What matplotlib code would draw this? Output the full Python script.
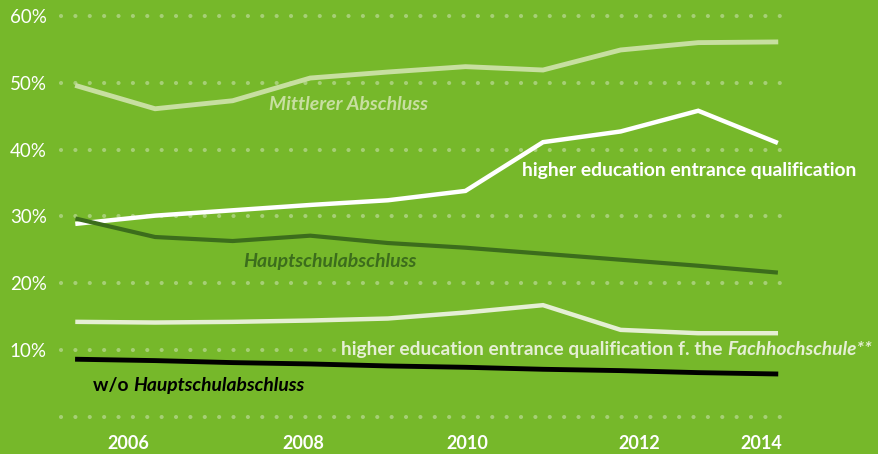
import matplotlib
matplotlib.use("Agg")
import matplotlib.pyplot as plt

years = [2005, 2006, 2007, 2008, 2009, 2010, 2011, 2012, 2013, 2014]

# shares of school leavers in percent
mittlerer = [49.5, 46.1, 47.3, 50.7, 51.6, 52.4, 51.9, 54.9, 56.0, 56.1]
hochschulreife = [28.9, 30.1, 30.9, 31.7, 32.4, 33.8, 41.1, 42.7, 45.8, 41.1]
hauptschul = [29.6, 26.9, 26.3, 27.1, 26.0, 25.3, 24.4, 23.5, 22.6, 21.6]
fachhochschul = [14.2, 14.1, 14.2, 14.4, 14.7, 15.6, 16.7, 13.0, 12.5, 12.5]
ohne = [8.6, 8.4, 8.1, 7.9, 7.6, 7.4, 7.1, 6.9, 6.6, 6.4]

y_ticks = [0, 10, 20, 30, 40, 50, 60]
y_labels = ["", "10%", "20%", "30%", "40%", "50%", "60%"]
x_ticks = [2005.66, 2007.91, 2010.02, 2012.24, 2013.81]
x_labels = ["2006", "2008", "2010", "2012", "2014"]

BG = "#76b82a"
DOTS = "#a6cf76"
C_MITTL = "#c7dfa0"
C_FH = "#e5efd4"
C_HAUPT = "#3c6d1c"

plt.rcParams["font.family"] = ["Lato", "DejaVu Sans"]

fig = plt.figure(figsize=(8.79, 4.54), dpi=100, facecolor=BG)
ax = fig.add_axes([55 / 879, 29 / 454, 824 / 879, 425 / 454])
ax.set_facecolor(BG)
ax.set_xlim(2004.71, 2015.33)
ax.set_ylim(-1.24, 62.38)
for s in ax.spines.values():
    s.set_visible(False)

# dotted grid
ax.hlines(y_ticks, 2004.787, 2014.21, colors=DOTS, linewidth=3.0,
          linestyles=[(0, (0.01, 3.44))], zorder=1)
for ln in ax.collections:
    ln.set_capstyle("round")

ax.set_yticks(y_ticks, y_labels)
ax.set_xticks(x_ticks, x_labels)
ax.tick_params(axis="both", length=0, colors="white")
ax.tick_params(axis="y", pad=6, labelsize=13.5)
ax.tick_params(axis="x", pad=7, labelsize=13)
for lab in ax.get_xticklabels():
    lab.set_fontweight("bold")

ax.plot(years, mittlerer, color=C_MITTL, lw=3.5, zorder=3, solid_joinstyle="miter")
ax.plot(years, hochschulreife, color="white", lw=3.2, zorder=3, solid_joinstyle="miter")
ax.plot(years, hauptschul, color=C_HAUPT, lw=3.0, zorder=4, solid_joinstyle="miter")
ax.plot(years, fachhochschul, color=C_FH, lw=3.2, zorder=3, solid_joinstyle="miter")
ax.plot(years, ohne, color="black", lw=3.5, zorder=3, solid_joinstyle="miter")

# series labels
ax.text(2007.47, 46.8, "Mittlerer Abschluss", color=C_MITTL, fontsize=14,
        fontweight="bold", style="italic", ha="left", va="center")
ax.text(2010.73, 36.8, "higher education entrance qualification", color="white",
        fontsize=13.9, fontweight="bold", ha="left", va="center", zorder=5)
ax.text(2007.13, 23.2, "Hauptschulabschluss", color=C_HAUPT, fontsize=14,
        fontweight="bold", style="italic", ha="left", va="center")

box = dict(facecolor=BG, edgecolor="none", pad=1.5)
t1 = ax.text(2008.40, 10.1, "higher education entrance qualification f. the ",
             color=C_FH, fontsize=13.8, fontweight="bold", ha="left",
             va="center", bbox=box, zorder=5)
ax.annotate("Fachhochschule**", xy=(1, 0), xycoords=t1, ha="left", va="bottom",
            color=C_FH, fontsize=13.8, fontweight="bold", style="italic",
            bbox=box, zorder=5)

t2 = ax.text(2005.2, 4.7, "w/o ", color="black", fontsize=13.9,
             fontweight="bold", ha="left", va="center")
ax.annotate("Hauptschulabschluss", xy=(1, 0), xycoords=t2, ha="left",
            va="bottom", color="black", fontsize=13.9, fontweight="bold",
            style="italic")

fig.savefig("out.png", dpi=100, facecolor=BG)
